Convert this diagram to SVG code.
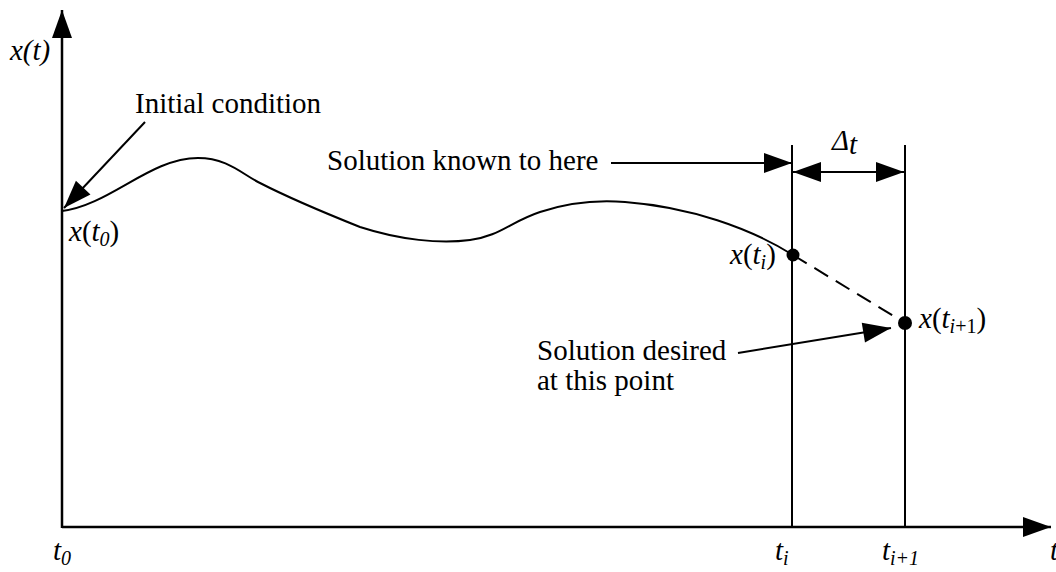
<svg xmlns="http://www.w3.org/2000/svg" width="1056" height="572" viewBox="0 0 1056 572">
<style>
  text { font-family: 'Liberation Serif', 'DejaVu Serif', 'Times New Roman', serif; font-size: 29px; fill: #000; }
  .it { font-style: italic; }
  .sub { font-size: 20px; }
  .ln { stroke: #000; fill: none; stroke-width: 2; }
  .ax { stroke: #000; fill: none; stroke-width: 2.5; }
</style>
<defs>
  <marker id="ah" markerUnits="userSpaceOnUse" markerWidth="30" markerHeight="20" refX="28" refY="10" orient="auto-start-reverse" overflow="visible">
    <path d="M0,0 L28,10 L0,20 z" fill="#000"/>
  </marker>
</defs>
<rect width="1056" height="572" fill="#fff"/>

<g id="axes">
  <line class="ax" x1="62" y1="528" x2="62" y2="10" marker-end="url(#ah)"/>
  <line class="ax" x1="62" y1="527" x2="1051" y2="527" marker-end="url(#ah)"/>
</g>

<g id="curve">
  <path class="ln" d="M62,211 C110,205 150,158 198,158 C228,158 243,175 260,183 C293,200 330,215 360,227 C400,240 440,244 470,240 C500,236 510,222 540,212 C570,202 600,200 625,202 C690,207 750,228 793,255"/>
</g>

<g id="step-lines">
  <line class="ln" x1="792" y1="145" x2="792" y2="527"/>
  <line class="ln" x1="905" y1="145" x2="905" y2="527"/>
</g>

<g id="connectors">
  <line class="ln" x1="145" y1="122" x2="64" y2="208" marker-end="url(#ah)"/>
  <line class="ln" x1="611" y1="163" x2="792" y2="163" marker-end="url(#ah)"/>
  <line class="ln" x1="793" y1="172" x2="904" y2="172" marker-start="url(#ah)" marker-end="url(#ah)"/>
  <line class="ln" x1="793" y1="255" x2="905" y2="323" stroke-dasharray="16,9"/>
  <line class="ln" x1="738" y1="353" x2="891" y2="328" marker-end="url(#ah)"/>
</g>

<g id="point-ti">
  <circle cx="793" cy="255" r="6.5" fill="#000"/>
  <text font-family="Liberation Serif, serif" x="730" y="264"><tspan class="it">x</tspan>(<tspan class="it">t</tspan><tspan class="it sub" dy="5">i</tspan><tspan dy="-5">)</tspan></text>
</g>

<g id="point-ti1">
  <circle cx="905" cy="323" r="7" fill="#000"/>
  <text x="919" y="328"><tspan class="it">x</tspan>(<tspan class="it">t</tspan><tspan class="sub" dy="5"><tspan class="it">i</tspan>+1</tspan><tspan dy="-5">)</tspan></text>
</g>

<g id="point-t0">
  <text x="69" y="241"><tspan class="it">x</tspan>(<tspan class="it">t</tspan><tspan class="it sub" dy="5">0</tspan><tspan dy="-5">)</tspan></text>
</g>

<g id="labels">
  <text class="it" x="10" y="60">x(t)</text>
  <text x="135" y="113">Initial condition</text>
  <text x="327" y="170">Solution known to here</text>
  <text class="it" x="832" y="150">Δ<tspan dy="4">t</tspan></text>
  <text x="537" y="360">Solution desired</text>
  <text x="537" y="390">at this point</text>
  <text class="it" x="53" y="560">t<tspan class="sub" dy="5">0</tspan></text>
  <text class="it" x="775" y="560">t<tspan class="sub" dy="5">i</tspan></text>
  <text class="it" x="882" y="560">t<tspan class="sub" dy="5">i+1</tspan></text>
  <text class="it" x="1050" y="560">t</text>
</g>
</svg>
